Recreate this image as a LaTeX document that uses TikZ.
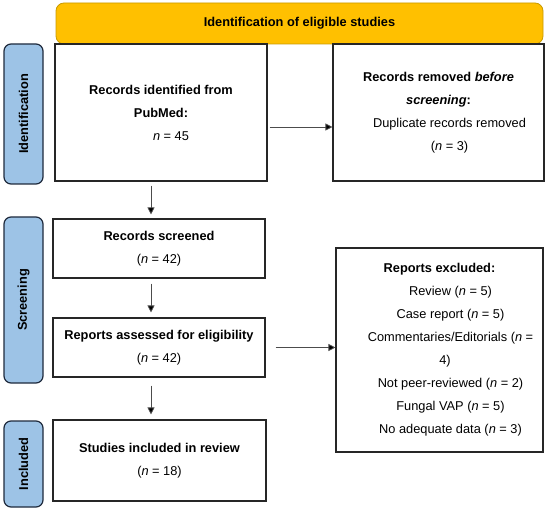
\documentclass[tikz,border=0pt]{standalone}
\usepackage{xcolor}
\usepackage{fontspec}
\setmainfont{Liberation Sans}
\usepackage{tikz}
\usetikzlibrary{arrows.meta}

\definecolor{bannerfill}{HTML}{FFC000}
\definecolor{bannerline}{HTML}{C99A00}
\definecolor{sidefill}{HTML}{9DC3E6}
\definecolor{sideline}{HTML}{1F2A3C}
\newcommand{\lineind}{\hspace*{22pt}}

\begin{document}
\begin{tikzpicture}[x=1pt,y=-1pt,
    txt/.style={font=\fontsize{12.8}{23}\selectfont, align=center, inner sep=0pt},
    box/.style={txt, draw=black!85, line width=1.1pt},
    side/.style={txt, font=\fontsize{12.8}{23}\selectfont\bfseries, draw=sideline, fill=sidefill,
        line width=1.2pt, rounded corners=7pt, rotate=90, minimum height=39pt},
    arr/.style={draw=black!70, line width=0.8pt, -{Triangle[length=7pt,width=7pt,fill=black]}}]
    \useasboundingbox (0,0) rectangle (550,511);

    \node [txt, font=\fontsize{12.8}{23}\selectfont\bfseries, draw=bannerline, fill=bannerfill,
        line width=0.8pt, rounded corners=8pt, minimum width=487pt, minimum height=41pt]
        (banner) at (299.5,23.5) {Identification of eligible studies};

    \node [side, minimum width=140pt] (idside) at (23.5,114) {Identification};
    \node [side, minimum width=166pt] (scrside) at (23.5,300) {Screening};
    \node [side, minimum width=86pt] (incside) at (23.5,464) {Included};

    \node [box, minimum width=212pt, minimum height=137pt] (ident) at (161,112.5)
        {\textbf{Records identified from}\\ \textbf{PubMed:}\\ \hspace*{20pt}\textit{n} = 45};
    \node [box, minimum width=211pt, minimum height=137pt] (removed) at (438.5,112.5)
        {\textbf{Records removed \textit{before}}\\ \textbf{\textit{screening}:}\\
         \lineind Duplicate records removed\\ \lineind(\textit{n} = 3)};
    \node [box, minimum width=212pt, minimum height=59pt] (screened) at (159,248.5)
        {\textbf{Records screened}\\ (\textit{n} = 42)};
    \node [box, minimum width=212pt, minimum height=59pt] (assessed) at (159,347.5)
        {\textbf{Reports assessed for eligibility}\\ (\textit{n} = 42)};
    \node [box, minimum width=207pt, minimum height=204pt] (excluded) at (439.5,350)
        {\textbf{Reports excluded:}\\ \lineind Review (\textit{n} = 5)\\ \lineind Case report (\textit{n} = 5)\\
         \lineind Commentaries/Editorials (\textit{n} =\\ \hspace*{11pt}4)\\
         \lineind Not peer-reviewed (\textit{n} = 2)\\ \lineind Fungal VAP (\textit{n} = 5)\\
         \lineind No adequate data (\textit{n} = 3)};
    \node [box, minimum width=213pt, minimum height=81pt] (included) at (159.5,460.5)
        {\textbf{Studies included in review}\\ (\textit{n} = 18)};

    % arrows
    \coordinate (down) at (151,0);
    \draw [arr, shorten <=4pt, shorten >=4pt] (ident.south -| down) -- (screened.north -| down);
    \draw [arr, shorten <=5pt, shorten >=5pt] (screened.south -| down) -- (assessed.north -| down);
    \draw [arr, shorten <=8pt, shorten >=5pt] (assessed.south -| down) -- (included.north -| down);
    \draw [arr, shorten <=2pt] ([yshift=-14.5pt]ident.east) -- ([yshift=-14.5pt]removed.west);
    \draw [arr, shorten <=10pt] (assessed.east) -- (assessed.east -| excluded.west);
\end{tikzpicture}
\end{document}
